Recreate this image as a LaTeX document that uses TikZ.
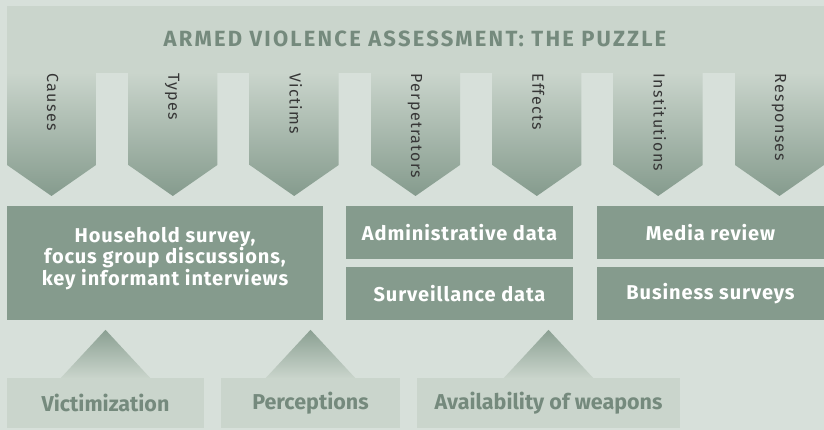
\documentclass[tikz,border=0pt]{standalone}
\usepackage{fontspec}
\setmainfont{Fira Sans}
\usetikzlibrary{calc}
\definecolor{bgc}{HTML}{D7E0DA}
\definecolor{panel}{HTML}{CAD5CC}
\definecolor{sage}{HTML}{859B8D}
\definecolor{titlec}{HTML}{758A7D}
\definecolor{labc}{HTML}{363636}
\tikzset{
  arrowshade/.style={top color=panel, middle color=panel!72!sage, bottom color=sage},
  trishade/.style={top color=sage!92!panel, middle color=sage!55!panel, bottom color=panel},
  toplab/.style={rotate=-90, anchor=base west, inner sep=0pt, text=labc,
    font=\fontsize{16}{18}\selectfont\addfontfeature{LetterSpace=8}},
  titlestyle/.style={anchor=base, inner sep=0pt, text=titlec,
    font=\fontsize{22}{24}\bfseries\selectfont\addfontfeature{LetterSpace=10}},
  midbox/.style={fill=sage, inner sep=0pt, text=white, align=center,
    font=\fontsize{20}{19.5}\bfseries\selectfont\addfontfeature{LetterSpace=4.5}},
  midtxt/.style={inner sep=0pt, text=white, align=center,
    font=\fontsize{20}{19.5}\bfseries\selectfont\addfontfeature{LetterSpace=4.5}},
  lowbox/.style={fill=panel, inner sep=0pt, text=titlec, align=center,
    minimum height=50, font=\fontsize{21.5}{24}\bfseries\selectfont}
}
\begin{document}
\begin{tikzpicture}[x=1pt,y=-1pt]
\useasboundingbox (0,0) rectangle (824,430);
\fill[bgc] (0,0) rectangle (824,430);
% top panel
\fill[panel] (7,6) rectangle (824,73);
\foreach \i/\t in {0/Causes,1/Types,2/Victims,3/Perpetrators,4/Effects,5/Institutions,6/Responses}{
  \pgfmathsetmacro\l{7+121.333*\i}
  \shade[arrowshade] (\l,72.5) -- ++(89,0) -- ++(0,92.5) -- ++(-44.5,31) -- ++(-44.5,-31) -- cycle;
  \node[toplab] (lab\i) at (\l+40,73.5) {\t};
}
\node[titlestyle] (title) at (415,47) {ARMED VIOLENCE ASSESSMENT: THE PUZZLE};
% middle boxes
\node[midbox, minimum width=316, minimum height=114] (hh) at (165,263) {};
\node[midtxt] (hhtext) at ($(hh.center)+(0,-4.5)$)
  {Household survey,\\focus group discussions,\\key informant interviews};
\node[midbox, minimum width=227, minimum height=53] (adm) at (459.5,232.5) {Administrative data};
\node[midbox, minimum width=227, minimum height=53] (sur) at (459.5,293.5) {Surveillance data};
\node[midbox, minimum width=227, minimum height=53] (med) at (710.5,232.5) {Media review};
\node[midbox, minimum width=227, minimum height=53] (bus) at (710.5,293.5) {Business surveys};
% bottom boxes
\node[lowbox, minimum width=197] (vic) at (105.5,403) {Victimization};
\node[lowbox, minimum width=179] (per) at (310.5,403) {Perceptions};
\node[lowbox, minimum width=263] (ava) at (548.5,403) {Availability of weapons};
\foreach \b in {vic,per,ava}{
  \shade[trishade] ($(\b.north)+(-45,0.5)$) -- ($(\b.north)+(0,-48)$) -- ($(\b.north)+(45,0.5)$) -- cycle;
}
\end{tikzpicture}
\end{document}
